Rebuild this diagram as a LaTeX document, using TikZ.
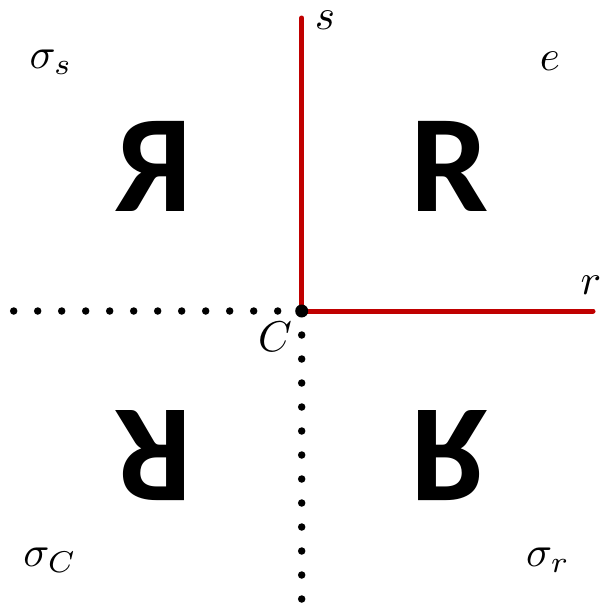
\documentclass[tikz,border=0pt]{standalone}
\usepackage{fontspec}
\newfontfamily\rfont{Carlito}
\definecolor{axisred}{RGB}{192,0,0}
\tikzset{
  redaxis/.style={draw=axisred, line width=5pt, line cap=round},
  dotaxis/.style={draw=black, line width=7.5pt, line cap=round, dash pattern=on 0pt off 24pt},
  bigR/.style={inner sep=0pt, font=\rfont\bfseries\fontsize{139}{139}\selectfont},
  lab/.style={inner sep=0pt, scale=4.3}
}
\begin{document}
\begin{tikzpicture}[x=1pt,y=-1pt]
\useasboundingbox (0,0) rectangle (603,605);
\coordinate (C) at (301.7,311);
\coordinate (sEnd) at (301.7,18);
\coordinate (rEnd) at (593,311);
\coordinate (L) at (10,311);
\coordinate (D) at (301.7,602);
\draw[dotaxis] (C) -- (L);
\draw[dotaxis] (C) -- (D);
\draw[redaxis] (C) -- (sEnd);
\draw[redaxis] (C) -- (rEnd);
\fill (C) circle (6.5pt);
\node[bigR] (Re) at (449.7,166) {R};
\node[bigR, xscale=-1] (Rs) at (153.7,166) {R};
\node[bigR, rotate=180] (RC) at (153.7,455.3) {R};
\node[bigR, yscale=-1] (Rr) at (449.7,455.3) {R};
\node[lab] (ls) at (325,20) {$s$};
\node[lab] (lr) at (591,285) {$r$};
\node[lab] (le) at (550,61) {$e$};
\node[lab] (lss) at (51,62) {$\sigma_s$};
\node[lab] (lsC) at (50,560) {$\sigma_C$};
\node[lab] (lsr) at (548,560) {$\sigma_r$};
\node[lab] (lC) at (275,337) {$C$};
\end{tikzpicture}
\end{document}
